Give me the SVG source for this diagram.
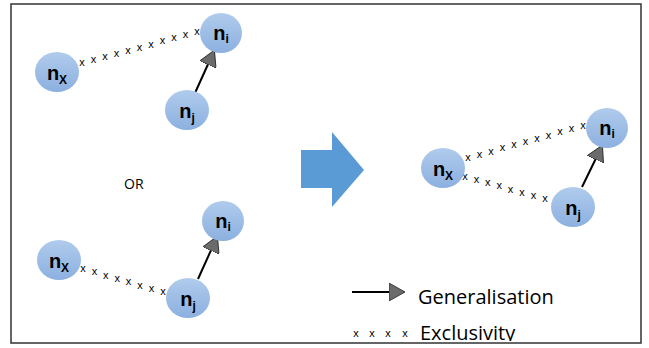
<svg xmlns="http://www.w3.org/2000/svg" width="649" height="348" viewBox="0 0 649 348">
<defs>
<linearGradient id="ng" x1="0" y1="0" x2="0" y2="1">
<stop offset="0" stop-color="#b0cbec"/>
<stop offset="1" stop-color="#8cb0e0"/>
</linearGradient>
<marker id="ah" markerUnits="userSpaceOnUse" viewBox="0 0 16 18" markerWidth="16" markerHeight="18" refX="15" refY="9" orient="auto">
<path d="M0,0 L16,9 L0,18 z" fill="#6b6b6b" stroke="#222" stroke-width="0.8"/>
</marker>
<clipPath id="frame"><rect x="11" y="4" width="630" height="337"/></clipPath>
<style>
.node{fill:url(#ng);}
.lbl{font-family:"Liberation Sans","DejaVu Sans",sans-serif;font-weight:bold;font-size:20px;fill:#000;}
.sub{font-size:12px;}
.xs{font-family:"Liberation Sans","DejaVu Sans",sans-serif;font-size:11px;fill:#000;text-anchor:middle;}
.gen{stroke:#000;stroke-width:2;fill:none;marker-end:url(#ah);}
.leg{font-family:"Open Sans","Liberation Sans",sans-serif;font-size:20px;fill:#000;}
</style>
</defs>
<rect x="11" y="4" width="630" height="339" fill="#fff" stroke="#333" stroke-width="1.5"/>

<g id="connectors">
<path class="gen" d="M195,93 L214,51"/>
<path class="gen" d="M198,279 L217,237"/>
<path class="gen" d="M582,187 L602,146"/>
<text class="xs" x="82 93.5 105 116.5 128 139.5 151 162.5 174 185.5 197" y="66 63 60 56.5 53.5 50.5 47.5 44 41 38 35">xxxxxxxxxxx</text>
<text class="xs" x="83 94.4 105.8 117.2 128.6 140 151.4 163" y="272 275.3 278.6 282 285.3 288.6 292 295">xxxxxxxx</text>
<text class="xs" x="468 479.5 491 502.5 514 525.5 537 548.5 560 571.5 583" y="161 157.8 154.6 151.4 148.2 145 141.8 138.6 135.4 132.2 129">xxxxxxxxxxx</text>
<text class="xs" x="465 476.4 487.8 499.2 510.6 522 533.4 545" y="180 183.1 186.3 189.4 192.6 195.7 198.9 202">xxxxxxxx</text>
</g>

<g id="nx1"><ellipse class="node" cx="57" cy="72" rx="22" ry="20"/><text class="lbl" x="57" y="80" text-anchor="middle">n<tspan class="sub" dy="4">X</tspan></text></g>
<g id="ni1"><ellipse class="node" cx="221" cy="33" rx="21" ry="20"/><text class="lbl" x="221" y="40" text-anchor="middle">n<tspan class="sub" dy="3">i</tspan></text></g>
<g id="nj1"><ellipse class="node" cx="187" cy="110" rx="22" ry="20"/><text class="lbl" x="187" y="118" text-anchor="middle">n<tspan class="sub" dy="4">j</tspan></text></g>

<g id="or"><text x="124" y="189" font-family="Open Sans, Liberation Sans, sans-serif" font-size="14" fill="#000">OR</text></g>

<g id="nx2"><ellipse class="node" cx="59" cy="260" rx="22" ry="20"/><text class="lbl" x="59" y="268" text-anchor="middle">n<tspan class="sub" dy="4">X</tspan></text></g>
<g id="ni2"><ellipse class="node" cx="223" cy="221" rx="21" ry="20"/><text class="lbl" x="223" y="228" text-anchor="middle">n<tspan class="sub" dy="3">i</tspan></text></g>
<g id="nj2"><ellipse class="node" cx="188" cy="298" rx="22" ry="20"/><text class="lbl" x="188" y="306" text-anchor="middle">n<tspan class="sub" dy="4">j</tspan></text></g>

<g id="bigarrow"><path d="M301,150 L332,150 L332,132 L364,170 L332,207 L332,188 L301,188 z" fill="#5b9bd5"/></g>

<g id="nx3"><ellipse class="node" cx="443" cy="168" rx="22" ry="20"/><text class="lbl" x="443" y="176" text-anchor="middle">n<tspan class="sub" dy="4">X</tspan></text></g>
<g id="ni3"><ellipse class="node" cx="607" cy="128" rx="21" ry="20"/><text class="lbl" x="607" y="135" text-anchor="middle">n<tspan class="sub" dy="3">i</tspan></text></g>
<g id="nj3"><ellipse class="node" cx="573" cy="207" rx="22" ry="20"/><text class="lbl" x="573" y="215" text-anchor="middle">n<tspan class="sub" dy="4">j</tspan></text></g>

<g id="legend" clip-path="url(#frame)">
<path class="gen" d="M352,292 L404,292"/>
<text class="leg" x="418" y="304">Generalisation</text>
<text class="xs" x="356 372 388 405" y="337 337 337 337">xxxx</text>
<text class="leg" x="420" y="340">Exclusivity</text>
</g>
</svg>
